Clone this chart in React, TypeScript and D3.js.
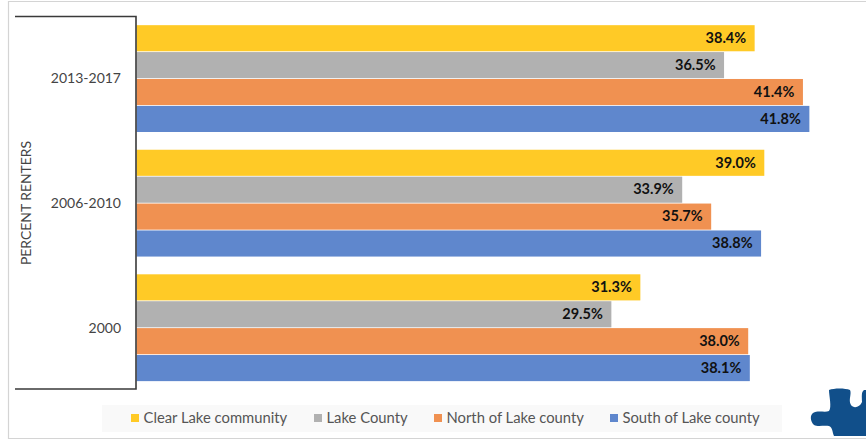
import React from "react";
import * as d3 from "d3";

const categories = ["2013-2017", "2006-2010", "2000"];
const seriesNames = ["Clear Lake community", "Lake County", "North of Lake county", "South of Lake county"];
const colors = ["#FFCA26", "#B1B1B1", "#F09151", "#5F87CD"];
const clearLake = [38.4, 39.0, 31.3];
const lakeCounty = [36.5, 33.9, 29.5];
const northLake = [41.4, 35.7, 38.0];
const southLake = [41.8, 38.8, 38.1];
const seriesValues = [clearLake, lakeCounty, northLake, southLake];
const legendX = [131, 314, 434, 610];
const font = "Lato, Carlito, sans-serif";

export default function App() {
  const x = d3.scaleLinear().domain([0, 40]).range([136.5, 780.4]);
  const y = d3.scaleBand<string>().domain(categories).range([16.3, 390]).paddingInner(0.136).paddingOuter(0.068);
  const inner = d3.scaleBand<number>().domain([0, 1, 2, 3]).range([0, y.bandwidth()]);
  return (
    <svg width={866} height={440} style={{ position: "absolute", left: 0, top: 0, background: "#fff" }} fontFamily={font}>
      <path d="M829 390C834 388 845 388 850 390C852 394 848 400 851 405C854 409 860 407 862 402C862 397 861 392 864 390L866 390V436H834C832 432 833 428 829 426C824 425 818 427 814 425C810 421 810 415 813 413C818 410 825 413 829 411C832 407 829 396 829 390Z" fill="#114f8a" />
      <path d="M866 1.5H8.5V438.5H866" fill="none" stroke="#d4d4d4" strokeWidth={1.2} />
      {categories.map((c, i) => (
        <g key={c}>
          {seriesValues.map((vals, s) => {
            const by = y(c)! + inner(s)!;
            return (
              <g key={s}>
                <rect x={x(0)} y={by + 0.4} width={x(vals[i]) - x(0)} height={inner.bandwidth() - 0.8} fill={colors[s]} />
                <text x={x(vals[i]) - 8.5} y={by + inner.bandwidth() / 2 + 4.8} textAnchor="end" fontSize={14.5} fontWeight={700} fill="#111">
                  {vals[i].toFixed(1)}%
                </text>
              </g>
            );
          })}
          <text x={121} y={y(c)! + y.bandwidth() / 2 + 4.8} textAnchor="end" fontSize={14} fill="#444">{c}</text>
        </g>
      ))}
      <path d="M15 16.500H136V389H15" fill="none" stroke="#3a3a3a" strokeWidth={1.6} />
      <text transform="translate(31,203) rotate(-90)" textAnchor="middle" fontSize={13.9} fill="#444">PERCENT RENTERS</text>
      <rect x={102} y={405} width={680} height={27} fill="#f9f9f9" />
      {seriesNames.map((n, i) => (
        <g key={n}>
          <rect x={legendX[i]} y={414} width={8} height={8} fill={colors[i]} />
          <text x={legendX[i] + 12.5} y={423} fontSize={14.8} fill="#555">{n}</text>
        </g>
      ))}
    </svg>
  );
}
